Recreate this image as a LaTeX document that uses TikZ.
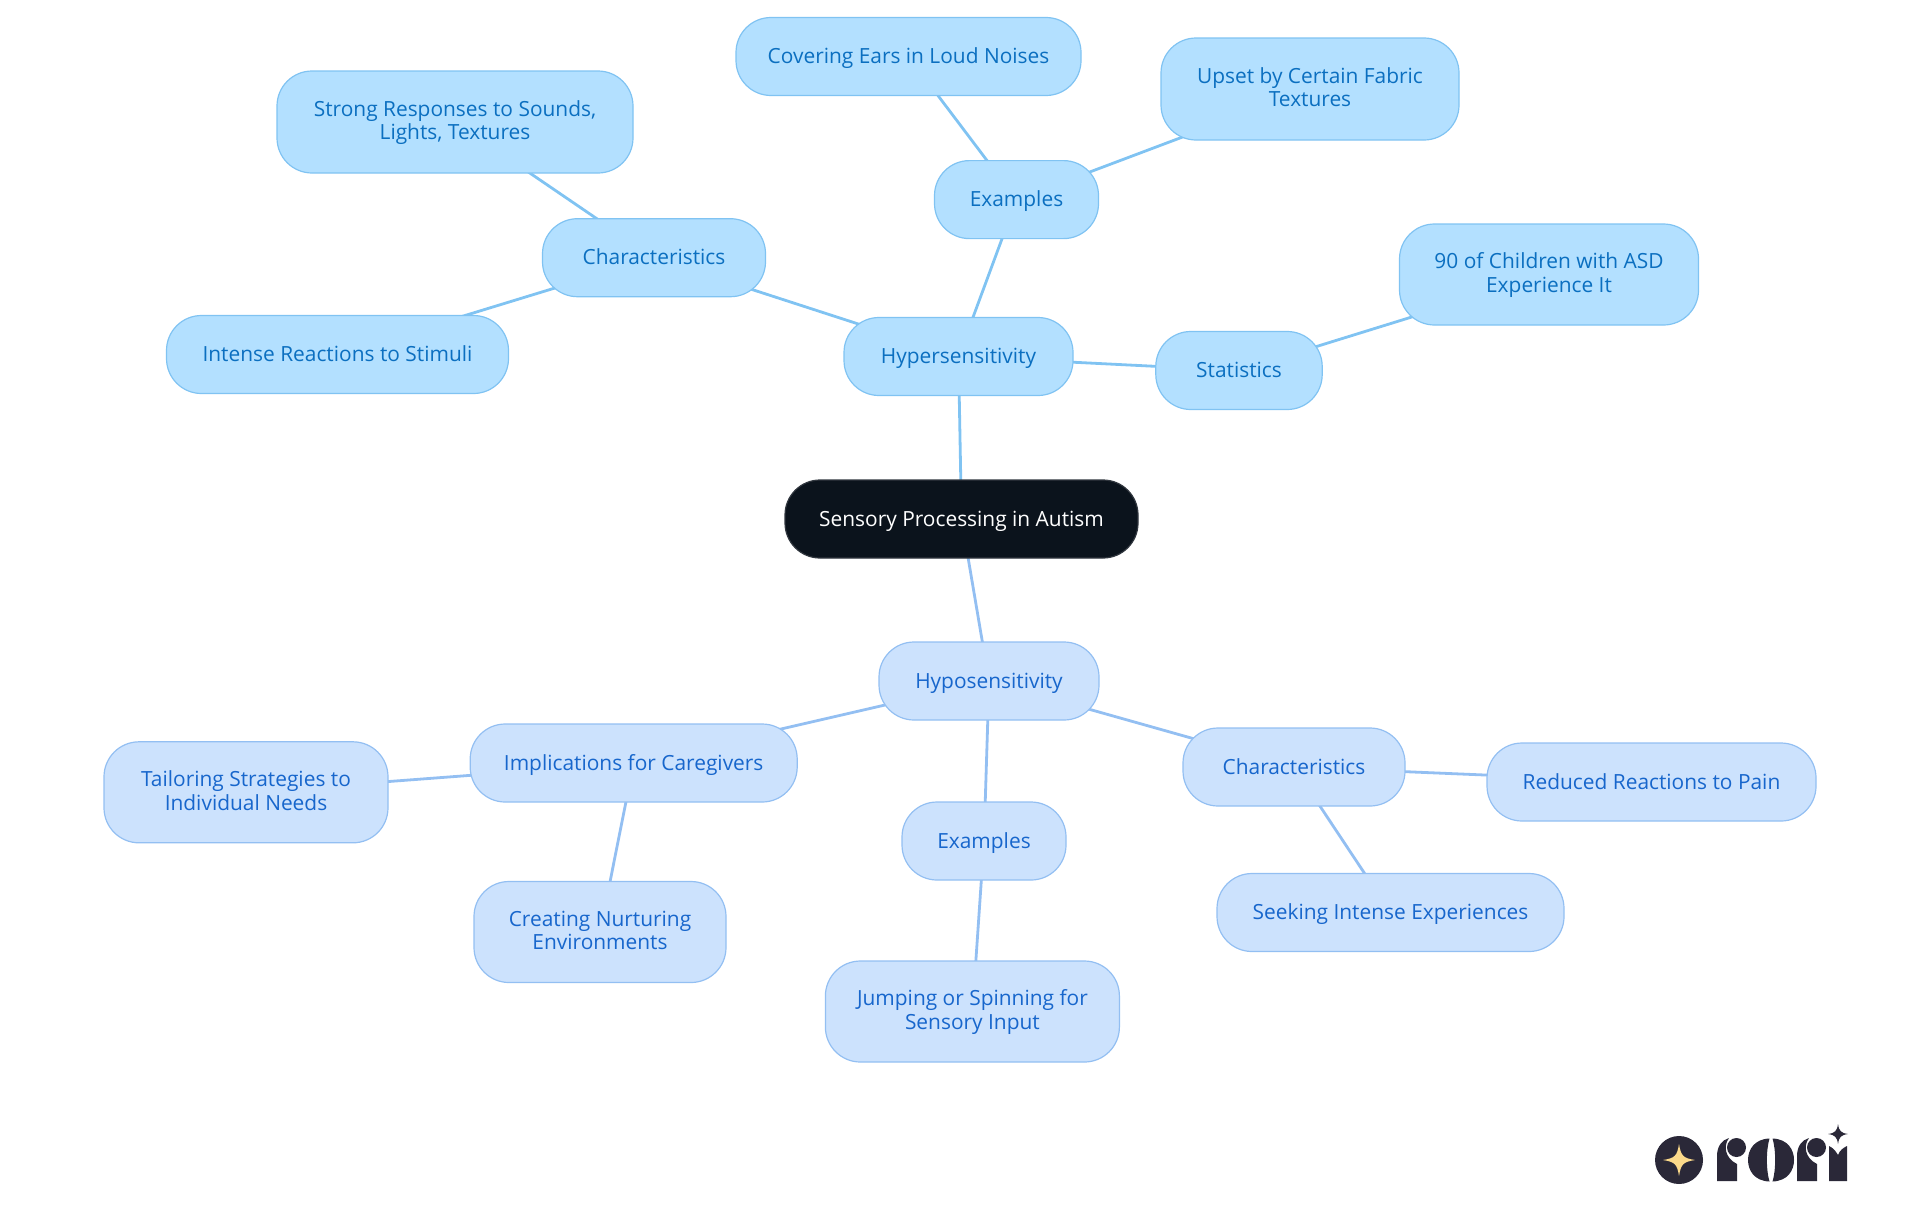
\documentclass[tikz,border=0pt]{standalone}
\usepackage{fontspec}
\setmainfont{Open Sans}
\usepackage{tikz}
\usetikzlibrary{backgrounds}
\definecolor{rootfill}{HTML}{0B131C}
\definecolor{hyperfill}{HTML}{B3E0FF}
\definecolor{hyperline}{HTML}{80C3F2}
\definecolor{hypertext}{HTML}{0B6FC0}
\definecolor{hypofill}{HTML}{CCE2FD}
\definecolor{hypoline}{HTML}{93BFF2}
\definecolor{hypotext}{HTML}{1766CC}
\definecolor{logodark}{HTML}{2A2838}
\definecolor{logostar}{HTML}{FBD98A}
\tikzstyle{topic}=[rectangle, rounded corners=17.5pt, inner sep=0pt, align=center, font=\fontsize{10.45}{11.7}\selectfont, line width=0.6pt, text height=9.8pt, text depth=2.8pt]
\tikzstyle{root}=[topic, fill=rootfill, draw=rootfill!85!white, text=white]
\tikzstyle{hyper}=[topic, fill=hyperfill, draw=hyperline, text=hypertext]
\tikzstyle{hypo}=[topic, fill=hypofill, draw=hypoline, text=hypotext]
\tikzstyle{twoline}=[text height=17.7pt, text depth=0pt]
\tikzstyle{linkhyper}=[draw=hyperline, line width=1.4pt]
\tikzstyle{linkhypo}=[draw=hypoline, line width=1.4pt]
\begin{document}
\begin{tikzpicture}[x=0.5pt, y=-0.5pt]
	\useasboundingbox (0, 0) rectangle (1920, 1215);
	\begin{scope}
		\node (rootnode) at (961.5, 519)[root, minimum width=176.5pt, minimum height=39pt] {Sensory Processing in Autism};
		\node (hyper) at (958.5, 356.5)[hyper, minimum width=114.5pt, minimum height=39pt] {Hypersensitivity};
		\node (hyperex) at (1016.5, 199.6)[hyper, minimum width=82pt, minimum height=39pt] {Examples};
		\node (covering) at (908.5, 56.5)[hyper, minimum width=172.5pt, minimum height=39pt] {Covering Ears in Loud Noises};
		\node (upset) at (1310, 89)[hyper, twoline, minimum width=149pt, minimum height=51pt] {Upset by Certain Fabric\\Textures};
		\node (stats) at (1239, 370.5)[hyper, minimum width=83.2pt, minimum height=39pt] {Statistics};
		\node (ninety) at (1549, 274.5)[hyper, twoline, minimum width=149.5pt, minimum height=50.5pt] {90 of Children with ASD\\Experience It};
		\node (hyperchar) at (654, 257.7)[hyper, minimum width=111.5pt, minimum height=39pt] {Characteristics};
		\node (strong) at (455, 122)[hyper, twoline, minimum width=178pt, minimum height=51pt] {Strong Responses to Sounds,\\Lights, Textures};
		\node (intense) at (337.5, 354.5)[hyper, minimum width=171pt, minimum height=39pt] {Intense Reactions to Stimuli};
		\node (hypo) at (989, 681)[hypo, minimum width=110pt, minimum height=39pt] {Hyposensitivity};
		\node (implic) at (633.7, 763)[hypo, minimum width=163.5pt, minimum height=39pt] {Implications for Caregivers};
		\node (tailor) at (246, 792.3)[hypo, twoline, minimum width=142pt, minimum height=50.5pt] {Tailoring Strategies to\\Individual Needs};
		\node (nurture) at (600, 932)[hypo, twoline, minimum width=126pt, minimum height=50.5pt] {Creating Nurturing\\Environments};
		\node (hypoex) at (984, 841)[hypo, minimum width=82pt, minimum height=39pt] {Examples};
		\node (jumping) at (972.4, 1011.5)[hypo, twoline, minimum width=147pt, minimum height=50.5pt] {Jumping or Spinning for\\Sensory Input};
		\node (hypochar) at (1294, 767)[hypo, minimum width=111pt, minimum height=39pt] {Characteristics};
		\node (pain) at (1651.5, 782)[hypo, minimum width=164.5pt, minimum height=39pt] {Reduced Reactions to Pain};
		\node (seeking) at (1390.5, 912.5)[hypo, minimum width=173.5pt, minimum height=39pt] {Seeking Intense Experiences};
	\end{scope}
	\begin{scope}[on background layer]
		\path [linkhyper] (rootnode.center) edge (hyper.center);
		\path [linkhyper] (hyper.center) edge (hyperex.center);
		\path [linkhyper] (hyperex.center) edge (covering.center);
		\path [linkhyper] (hyperex.center) edge (upset.center);
		\path [linkhyper] (hyper.center) edge (stats.center);
		\path [linkhyper] (stats.center) edge (ninety.center);
		\path [linkhyper] (hyper.center) edge (hyperchar.center);
		\path [linkhyper] (hyperchar.center) edge (strong.center);
		\path [linkhyper] (hyperchar.center) edge (intense.center);
		\path [linkhypo] (rootnode.center) edge (hypo.center);
		\path [linkhypo] (hypo.center) edge (implic.center);
		\path [linkhypo] (implic.center) edge (tailor.center);
		\path [linkhypo] (implic.center) edge (nurture.center);
		\path [linkhypo] (hypo.center) edge (hypoex.center);
		\path [linkhypo] (hypoex.center) edge (jumping.center);
		\path [linkhypo] (hypo.center) edge (hypochar.center);
		\path [linkhypo] (hypochar.center) edge (pain.center);
		\path [linkhypo] (hypochar.center) edge (seeking.center);
	\end{scope}
	% logo
	\begin{scope}[logodark]
		\fill (1679, 1160) circle [radius=24];
		\fill[logostar] (1679, 1144) .. controls (1681, 1156) and (1683, 1158) .. (1695, 1160) .. controls (1683, 1162) and (1681, 1164) .. (1679, 1176) .. controls (1677, 1164) and (1675, 1162) .. (1663, 1160) .. controls (1675, 1158) and (1677, 1156) .. (1679, 1144) -- cycle;
		\foreach \x in {0, 80} {
			\fill (1717+\x, 1181) -- (1717+\x, 1156) .. controls (1717+\x, 1146) and (1722+\x, 1140) .. (1729+\x, 1138) .. controls (1723+\x, 1146) and (1725+\x, 1158) .. (1737+\x, 1164) -- (1737+\x, 1181) -- cycle;
			\fill (1736.5+\x, 1147.5) circle [radius=9.5];
		}
		\fill (1769.5, 1138.5) .. controls (1754, 1139) and (1748, 1150) .. (1748, 1160) .. controls (1748, 1170) and (1754, 1181) .. (1769.5, 1181.5) .. controls (1766, 1170) and (1766, 1150) .. (1769.5, 1138.5) -- cycle;
		\fill (1772.5, 1138.5) .. controls (1788, 1139) and (1794, 1150) .. (1794, 1160) .. controls (1794, 1170) and (1788, 1181) .. (1772.5, 1181.5) .. controls (1776, 1170) and (1776, 1150) .. (1772.5, 1138.5) -- cycle;
		\fill (1829, 1181) -- (1829, 1146) .. controls (1833, 1148) and (1835, 1150) .. (1838, 1155) .. controls (1840, 1150) and (1843, 1148) .. (1847, 1146) -- (1847, 1181) -- cycle;
		\fill (1838, 1124) .. controls (1839, 1131) and (1841, 1133) .. (1848, 1134) .. controls (1841, 1135) and (1839, 1137) .. (1838, 1144) .. controls (1837, 1137) and (1835, 1135) .. (1828, 1134) .. controls (1835, 1133) and (1837, 1131) .. (1838, 1124) -- cycle;
	\end{scope}
\end{tikzpicture}
\end{document}
